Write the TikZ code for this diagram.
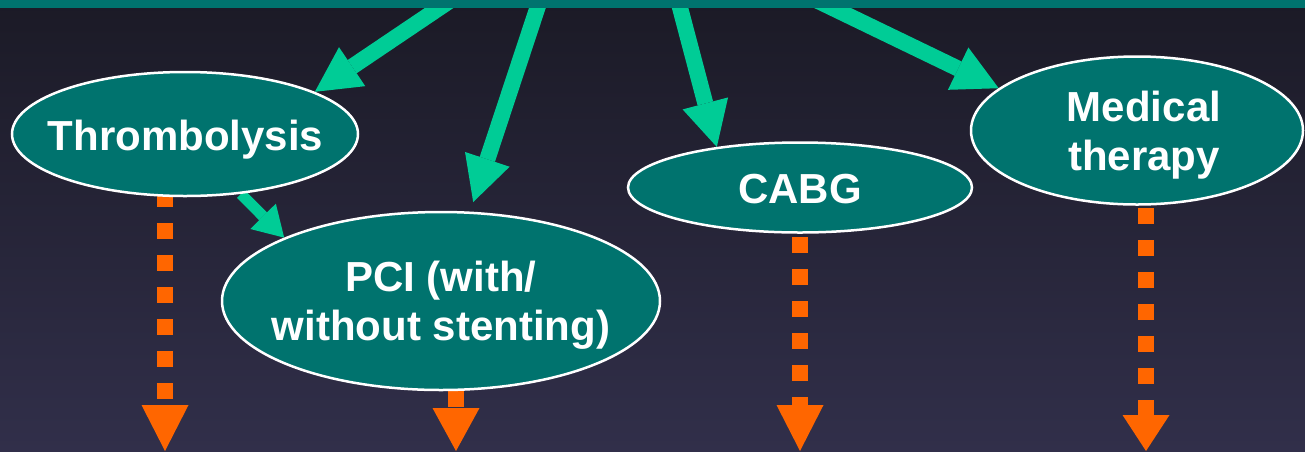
\documentclass[tikz,border=0pt]{standalone}
\usepackage{fontspec}
\setmainfont{Liberation Sans}
\usetikzlibrary{arrows.meta,shapes.geometric}

\definecolor{bgtop}{RGB}{27,26,38}
\definecolor{bgbot}{RGB}{49,47,74}
\definecolor{tealfill}{RGB}{0,115,110}
\definecolor{mint}{RGB}{0,204,150}
\definecolor{orng}{RGB}{255,102,0}

\pgfdeclarelayer{bg}
\pgfdeclarelayer{links}
\pgfsetlayers{bg,links,main}

\begin{document}
\begin{tikzpicture}[x=1pt,y=-1pt,
  ell/.style={ellipse, draw=white, line width=2.5pt, fill=tealfill, inner sep=0pt},
  lbl/.style={text=white, font=\fontsize{42}{49}\selectfont\bfseries, inner sep=0pt, align=center},
  feed/.style={draw=mint, line width=16pt,
    -{Triangle[length=45pt,width=47pt,line width=0pt]}},
  feedsmall/.style={draw=mint, line width=11pt,
    -{Triangle[length=30pt,width=36pt,line width=0pt]}},
  outc/.style={draw=orng, line width=16pt, dash pattern=on 16pt off 16pt,
    -{Triangle[length=#1,width=47pt,line width=0pt]}},
  outc/.default=46pt
]
\useasboundingbox (0,0) rectangle (1305,451);

\begin{pgfonlayer}{bg}
  \fill[top color=bgtop, bottom color=bgbot] (0,0) rectangle (1305,451);
\end{pgfonlayer}

% treatment options
\node[ell, minimum width=346pt, minimum height=124pt] (thromb) at (185,134) {};
\node[ell, minimum width=438pt, minimum height=178pt] (pci)    at (441,301) {};
\node[ell, minimum width=344pt, minimum height=90pt]  (cabg)   at (800,187.5) {};
\node[ell, minimum width=332pt, minimum height=148pt] (med)    at (1137,130.5) {};

\node[lbl, anchor=base]  (thrombtxt) at (185.5,150) {Thrombolysis};
\node[lbl, anchor=base]  (cabgtxt)   at (800,203)   {CABG};
\node[lbl, anchor=north] (pcitxt)    at (441,261)   {PCI (with/\\without stenting)};
\node[lbl, anchor=north] (medtxt)    at (1144,91)   {Medical\\therapy};

% header band
\node[fill=tealfill, minimum width=1305pt, minimum height=8pt, inner sep=0pt,
      anchor=north west] (bar) at (0,0) {};

% arrow origins under the band and open ends at the bottom
\coordinate (f1) at (451,0);
\coordinate (f2) at (540,0);
\coordinate (f3) at (678,0);
\coordinate (f4) at (816,0);
\coordinate (o1) at (165,451);
\coordinate (o2) at (456,451);
\coordinate (o3) at (800,451);
\coordinate (o4) at (1146,451);

\begin{pgfonlayer}{links}
  \draw[feed] (f1) -- (thromb.18);
  \draw[feed, shorten >=10pt] (f2) -- (pci.72.6);
  \draw[feed] (f3) -- (cabg.154.5);
  \draw[feed] (f4) -- (med.163.9);
  \draw[feedsmall] (thromb.-47) -- (pci.158.9);

  \draw[outc, dash phase=7pt]       ([xshift=-20pt]thromb.center) -- (o1);
  \draw[outc=43pt, dash phase=6pt]  ([xshift=15pt]pci.center) -- (o2);
  \draw[outc, dash phase=14.5pt]    (cabg.center) -- (o3);
  \draw[outc=36pt, dash phase=18.5pt] ([xshift=9pt]med.center) -- (o4);
\end{pgfonlayer}
\end{tikzpicture}
\end{document}
